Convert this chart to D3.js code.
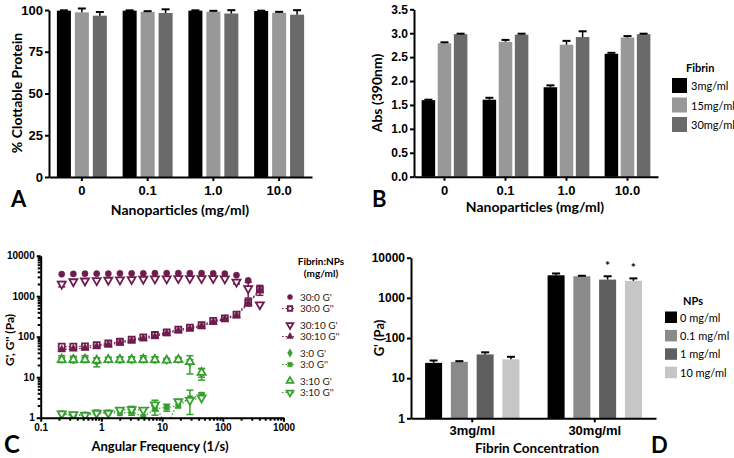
<!DOCTYPE html>
<html><head><meta charset="utf-8">
<script src="https://cdn.jsdelivr.net/npm/d3@7"></script>
<style>
body{margin:0;background:#fff;}
svg{font-family:Lato,"Open Sans",sans-serif;}
.axis path,.axis line{stroke:#000;stroke-width:2;}
.axis text{font-weight:bold;fill:#000;}
</style></head>
<body><svg id="c" width="734" height="458"></svg>
<script>
// ---------- Panel A data ----------
const nanoGroups = ["0","0.1","1.0","10.0"];
const fibrinSeries = ["3mg/ml","15mg/ml","30mg/ml"];
const fibrinColors = ["#000000","#989898","#6a6a6a"];
const clottable3 = [99.6,99.6,99.6,99.4];
const clottable15 = [98.6,98.9,99.0,98.4];
const clottable30 = [96.6,98.2,97.9,97.2];
const clottableErr3 = [0.2,0.2,0.2,0.2];
const clottableErr15 = [2.3,0.4,0.5,0.5];
const clottableErr30 = [2.2,2.2,2.0,2.7];
const clottableTicks = [0,25,50,75,100];
// ---------- Panel B data ----------
const abs3 = [1.60,1.61,1.87,2.57];
const abs15 = [2.79,2.82,2.76,2.91];
const abs30 = [2.98,2.97,2.92,2.98];
const absErr3 = [0.01,0.04,0.04,0.02];
const absErr15 = [0.02,0.04,0.08,0.03];
const absErr30 = [0.01,0.02,0.12,0.01];
const absTicks = [0,0.5,1.0,1.5,2.0,2.5,3.0,3.5];
// ---------- Panel C data ----------
const freq = [0.222,0.345,0.537,0.836,1.30,2.02,3.15,4.90,7.62,11.9,18.5,28.7,44.7,69.5,108,168,262,408];
const g30_0_Gp  = [3500,3550,3600,3600,3600,3650,3650,3650,3700,3700,3700,3700,3700,3650,3600,3300,2450,1500];
const g30_0_Gpp = [57,57,58,62,68,75,85,96,110,128,150,168,192,245,285,350,690,1450];
const g30_10_Gp = [2000,2300,2400,2450,2500,2550,2600,2650,2700,2700,2750,2750,2750,2750,2700,2250,1550,620];
const g30_10_Gpp= [48,50,52,57,63,70,79,89,101,120,140,156,180,228,270,330,660,1400];
const g3_0_Gp   = [29,28,29,24,28,28,28,29,28,27,28,23,12.5];
const g3_0_Gpp  = [1.28,1.10,1.20,1.36,1.35,1.28,1.40,1.05,1.65,1.80,1.95,3.0,3.7];
const g3_10_Gp  = [27,27,27,26,27,27,27,27,27,26,27,24,13];
const g3_10_Gpp = [1.25,1.20,1.15,1.30,1.30,1.55,1.60,1.55,2.10,0.6,2.50,2.7,3.1];
const e30_0_Gp  = [0,0,0,0,0,0,0,0,0,0,0,0,0,0,0,0,0,0];
const e30_0_Gpp = [0,0,0,0,0,0,0,0,0,0,0,0,0,0,0,0,0,400];
const e30_10_Gp = [300,0,0,0,0,0,0,0,0,0,0,0,0,0,0,250,650,0];
const e30_10_Gpp= [0,0,0,0,0,0,0,0,0,0,0,0,0,0,0,0,0,0];
const e3_0_Gp   = [5,5,5,6,3,4,4,5,4,2,3,11,4];
const e3_0_Gpp  = [0,0,0,0,0,0,0.25,0,0.5,0.35,0,1.8,0.4];
const e3_10_Gp  = [4,4,4,4,3,4,4,4,4,2,3,3,3];
const e3_10_Gpp = [0,0,0,0,0,0,0.3,0,0.6,0,0,0,0];
const cLegend = ["30:0 G'","30:0 G''","30:10 G'","30:10 G''","3:0 G'","3:0 G''","3:10 G'","3:10 G''"];
const cYTicks = [1,10,100,1000,10000];
const cXTicks = [0.1,1,10,100,1000];
// ---------- Panel D data ----------
const fibrinConc = ["3mg/ml","30mg/ml"];
const npSeries = ["0 mg/ml","0.1 mg/ml","1 mg/ml","10 mg/ml"];
const npColors = ["#000000","#8a8a8a","#5f5f5f","#c6c6c6"];
const gp3 = [24,25.5,39,29.5];
const gp30 = [3650,3450,2850,2650];
const gpErr3 = [3.5,1,5,4.5];
const gpErr30 = [400,100,600,400];
const sigD = [false,false,true,true];
const dYTicks = [1,10,100,1000,10000];

const svg = d3.select("#c");
const maroon = "#6e1c4e", green = "#35a02e";

function barPanel(o){
  const g = svg.append("g");
  const x0 = d3.scaleBand().domain(o.groups).range(o.xr).paddingInner(o.pi).paddingOuter(o.pi/2);
  const x1 = d3.scaleBand().domain(o.series.map((d,i)=>i)).range([0,x0.bandwidth()]).paddingInner(o.pi1);
  const y = o.y;
  o.vals.forEach((vals,si)=>{
    vals.forEach((v,gi)=>{
      const xx = x0(o.groups[gi])+x1(si), w = x1.bandwidth();
      g.append("rect").attr("x",xx).attr("y",y(v)).attr("width",w).attr("height",y(o.base)-y(v)).attr("fill",o.colors[si]);
      const e = o.errs[si][gi];
      if(e>0){
        g.append("line").attr("x1",xx+w/2).attr("x2",xx+w/2).attr("y1",y(v)).attr("y2",y(v+e)).attr("stroke","#000").attr("stroke-width",1.5);
        g.append("line").attr("x1",xx+w/2-4).attr("x2",xx+w/2+4).attr("y1",y(v+e)).attr("y2",y(v+e)).attr("stroke","#000").attr("stroke-width",2);
      }
      if(o.sig && o.sig[si] && gi===1){
        g.append("text").attr("x",xx+w/2).attr("y",y(v+e)-6).attr("text-anchor","middle").attr("font-size",12).attr("font-weight","bold").text("*");
      }
    });
  });
  const ya = g.append("g").attr("class","axis").attr("transform",`translate(${o.xr[0]},0)`)
    .call(o.yAxis);
  ya.selectAll("text").attr("font-size",o.yfs);
  const xa = g.append("g").attr("class","axis").attr("transform",`translate(0,${y(o.base)})`)
    .call(d3.axisBottom(x0).tickSize(4).tickSizeOuter(0).tickPadding(o.xpad||5));
  xa.selectAll("text").attr("font-size",o.xfs);
  return {x0,x1};
}

// Panel A
const yA = d3.scaleLinear().domain([0,100]).range([177,10]);
barPanel({groups:nanoGroups,series:fibrinSeries,colors:fibrinColors,vals:[clottable3,clottable15,clottable30],
  errs:[clottableErr3,clottableErr15,clottableErr30],xr:[49,312],pi:0.24,pi1:0.22,y:yA,base:0,
  yAxis:d3.axisLeft(yA).tickValues(clottableTicks).tickSize(4).tickPadding(2).tickSizeOuter(0),yfs:13,xfs:13});
svg.append("text").attr("transform","translate(22,93) rotate(-90)").attr("text-anchor","middle").attr("font-size",14).attr("font-weight","bold").text("% Clottable Protein");
svg.append("text").attr("x",180).attr("y",215).attr("text-anchor","middle").attr("font-size",14).attr("font-weight","bold").text("Nanoparticles (mg/ml)");
svg.append("text").attr("x",11).attr("y",207).attr("font-size",22).attr("font-weight","bold").text("A");

// Panel B
const yB = d3.scaleLinear().domain([0,3.5]).range([176.7,9.3]);
barPanel({groups:nanoGroups,series:fibrinSeries,colors:fibrinColors,vals:[abs3,abs15,abs30],
  errs:[absErr3,absErr15,absErr30],xr:[414,658],pi:0.25,pi1:0.16,y:yB,base:0,
  yAxis:d3.axisLeft(yB).tickValues(absTicks).tickFormat(d3.format(".1f")).tickSize(4).tickPadding(2).tickSizeOuter(0),yfs:12,xfs:13});
svg.append("text").attr("transform","translate(382,93) rotate(-90)").attr("text-anchor","middle").attr("font-size",14).attr("font-weight","bold").text("Abs (390nm)");
svg.append("text").attr("x",535).attr("y",212).attr("text-anchor","middle").attr("font-size",14).attr("font-weight","bold").text("Nanoparticles (mg/ml)");
svg.append("text").attr("x",372).attr("y",207).attr("font-size",22).attr("font-weight","bold").text("B");
const legB = svg.append("g");
legB.append("text").attr("x",686).attr("y",72).attr("font-size",11).attr("font-weight","bold").text("Fibrin");
fibrinSeries.forEach((s,i)=>{
  legB.append("rect").attr("x",672).attr("y",78+i*19.5).attr("width",15).attr("height",15).attr("fill",fibrinColors[i]);
  legB.append("text").attr("x",691).attr("y",90+i*19.5).attr("font-size",11).text(s);
});

// Panel C
const xC = d3.scaleLog().domain([0.1,1000]).range([40.7,283.5]);
const yC = d3.scaleLog().domain([1,10000]).range([417.7,255.7]);
svg.append("defs").append("clipPath").attr("id","clipC").append("rect").attr("x",38).attr("y",245).attr("width",250).attr("height",173);
const gC = svg.append("g");
const plotC = gC.append("g").attr("clip-path","url(#clipC)");
const seriesC = [
  {v:g30_0_Gp,e:e30_0_Gp,c:maroon,shape:"circle",fill:true,dotted:false},
  {v:g30_0_Gpp,e:e30_0_Gpp,c:maroon,shape:"square",fill:false,dotted:true},
  {v:g30_10_Gp,e:e30_10_Gp,c:maroon,shape:"tridown",fill:false,dotted:false},
  {v:g30_10_Gpp,e:e30_10_Gpp,c:maroon,shape:"triup",fill:true,dotted:true},
  {v:g3_0_Gp,e:e3_0_Gp,c:green,shape:"diamond",fill:true,dotted:false},
  {v:g3_0_Gpp,e:e3_0_Gpp,c:green,shape:"square",fill:true,dotted:true},
  {v:g3_10_Gp,e:e3_10_Gp,c:green,shape:"triup",fill:false,dotted:false},
  {v:g3_10_Gpp,e:e3_10_Gpp,c:green,shape:"tridown",fill:false,dotted:true}
];
const symMap = {circle:d3.symbolCircle,square:d3.symbolSquare,diamond:d3.symbolDiamond,triup:d3.symbolTriangle,tridown:d3.symbolTriangle};
function drawSym(sel,s,x,y,size){
  const p = d3.symbol().type(symMap[s.shape]).size(size)();
  sel.append("path").attr("d",p)
    .attr("transform",`translate(${x},${y})`+(s.shape==="tridown"?" rotate(180)":""))
    .attr("fill",s.fill?s.c:"#fff").attr("stroke",s.c).attr("stroke-width",s.fill?0.5:1.8);
}
seriesC.forEach(s=>{
  if(s.dotted){
    const line = d3.line().x((d,i)=>xC(freq[i])).y(d=>yC(Math.max(d,0.3)));
    plotC.append("path").attr("d",line(s.v)).attr("fill","none").attr("stroke",s.c).attr("stroke-width",1.3).attr("stroke-dasharray","1.5,2");
  }
});
seriesC.forEach(s=>{
  s.v.forEach((v,i)=>{
    const e=s.e[i]; if(e>0){
      const xx=xC(freq[i]);
      const lo=Math.max(v-e,0.5), hi=v+e;
      plotC.append("line").attr("x1",xx).attr("x2",xx).attr("y1",yC(lo)).attr("y2",yC(hi)).attr("stroke",s.c).attr("stroke-width",1.5);
      [lo,hi].forEach(b=>plotC.append("line").attr("x1",xx-3.5).attr("x2",xx+3.5).attr("y1",yC(b)).attr("y2",yC(b)).attr("stroke",s.c).attr("stroke-width",1.5));
    }
  });
});
seriesC.forEach(s=>{
  s.v.forEach((v,i)=>{ if(v>=1) drawSym(plotC,s,xC(freq[i]),yC(v),s.shape==="circle"?30:(s.shape==="square"&&!s.fill?36:28)); });
});
const yCa = gC.append("g").attr("class","axis").attr("transform","translate(40.7,0)")
  .call(d3.axisLeft(yC).tickValues(yC.ticks()).tickSize(3).tickSizeOuter(0).tickFormat(d=>cYTicks.includes(d)?d3.format("d")(d):""));
yCa.selectAll(".tick line").attr("x2",d=>cYTicks.includes(d)?-4:-3);
yCa.selectAll("text").attr("font-size",10);
const xCa = gC.append("g").attr("class","axis").attr("transform","translate(0,417.7)")
  .call(d3.axisBottom(xC).tickValues(xC.ticks()).tickSize(3).tickSizeOuter(0).tickFormat(d=>cXTicks.includes(d)?String(d):""));
xCa.selectAll(".tick line").attr("y2",d=>cXTicks.includes(d)?4:3);
xCa.selectAll("text").attr("font-size",10);
svg.append("text").attr("transform","translate(14,340) rotate(-90)").attr("text-anchor","middle").attr("font-size",12).attr("font-weight","bold").text("G', G'' (Pa)");
svg.append("text").attr("x",160).attr("y",451).attr("text-anchor","middle").attr("font-size",13).attr("font-weight","bold").text("Angular Frequency (1/s)");
svg.append("text").attr("x",4).attr("y",453).attr("font-size",24).attr("font-weight","bold").text("C");
const legC = svg.append("g");
legC.append("text").attr("x",321).attr("y",265).attr("text-anchor","middle").attr("font-size",10).attr("font-weight","bold").text("Fibrin:NPs");
legC.append("text").attr("x",321).attr("y",277).attr("text-anchor","middle").attr("font-size",10).attr("font-weight","bold").text("(mg/ml)");
const legCy = [297,308.5,325,336.5,353,364.5,381,392.5];
seriesC.forEach((s,i)=>{
  if(s.dotted) legC.append("line").attr("x1",282).attr("x2",296).attr("y1",legCy[i]).attr("y2",legCy[i]).attr("stroke",s.c).attr("stroke-width",1.2).attr("stroke-dasharray","1.5,2");
  drawSym(legC,s,290,legCy[i],20);
  legC.append("text").attr("x",300).attr("y",legCy[i]+3.5).attr("font-size",10).attr("fill","#222").text(cLegend[i]);
});

// Panel D
const yD = d3.scaleLog().domain([1,10000]).range([418.3,257.7]);
barPanel({groups:fibrinConc,series:npSeries,colors:npColors,vals:[0,1,2,3].map(i=>[gp3[i],gp30[i]]),
  errs:[0,1,2,3].map(i=>[gpErr3[i],gpErr30[i]]),xr:[411,656],pi:0.23,pi1:0.34,y:yD,base:1,sig:sigD,xpad:3,
  yAxis:d3.axisLeft(yD).tickValues(dYTicks).tickFormat(d3.format("d")).tickSize(4).tickPadding(2).tickSizeOuter(0),yfs:12,xfs:13});
svg.append("text").attr("transform","translate(384,338) rotate(-90)").attr("text-anchor","middle").attr("font-size",13).attr("font-weight","bold").text("G' (Pa)");
svg.append("text").attr("x",537).attr("y",453).attr("text-anchor","middle").attr("font-size",13.5).attr("font-weight","bold").text("Fibrin Concentration");
svg.append("text").attr("x",651).attr("y",453).attr("font-size",22).attr("font-weight","bold").text("D");
const legD = svg.append("g");
legD.append("text").attr("x",683).attr("y",305).attr("font-size",11).attr("font-weight","bold").text("NPs");
npSeries.forEach((s,i)=>{
  legD.append("rect").attr("x",665).attr("y",311.5+i*18.4).attr("width",12).attr("height",11.5).attr("fill",npColors[i]);
  legD.append("text").attr("x",680).attr("y",321.5+i*18.4).attr("font-size",11).text(s);
});
</script></body></html>
